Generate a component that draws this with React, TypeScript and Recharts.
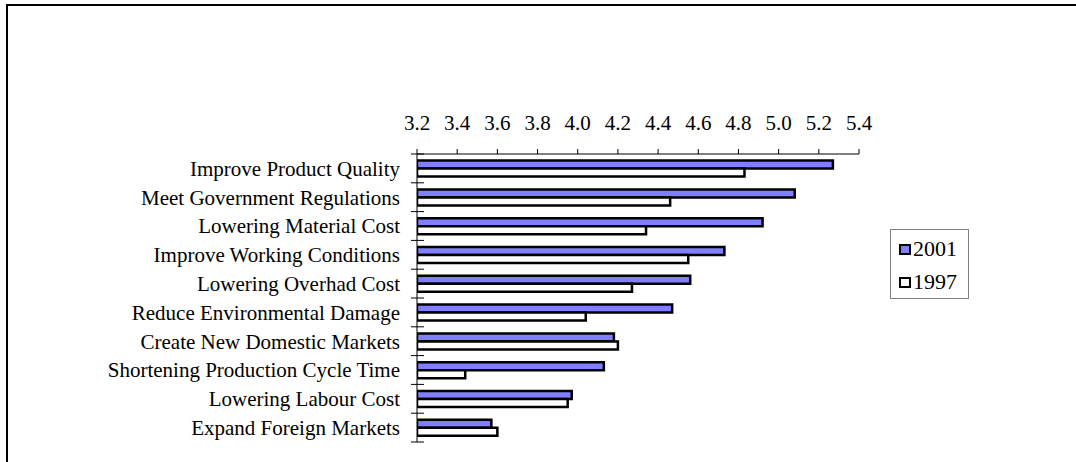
import React from 'react';
import { BarChart, Bar, XAxis, YAxis, Legend } from 'recharts';

const categories = [
  'Improve Product Quality',
  'Meet Government Regulations',
  'Lowering Material Cost',
  'Improve Working Conditions',
  'Lowering Overhad Cost',
  'Reduce Environmental Damage',
  'Create New Domestic Markets',
  'Shortening Production Cycle Time',
  'Lowering Labour Cost',
  'Expand Foreign Markets',
];

const values2001 = [5.27, 5.08, 4.92, 4.73, 4.56, 4.47, 4.18, 4.13, 3.97, 3.57];
const values1997 = [4.83, 4.46, 4.34, 4.55, 4.27, 4.04, 4.2, 3.44, 3.95, 3.6];

const xTicks = [3.2, 3.4, 3.6, 3.8, 4.0, 4.2, 4.4, 4.6, 4.8, 5.0, 5.2, 5.4];

const seriesOrder = ['y2001', 'y1997'];

const data = categories.map((name, i) => ({
  name,
  y2001: values2001[i],
  y1997: values1997[i],
}));

const W = 1076;
const H = 462;
const margin = { top: 104, right: 217, bottom: 20, left: 17 };
const X_AXIS_H = 50;
const LABEL_GAP = 17;
const plotHeight = H - margin.top - X_AXIS_H - margin.bottom;
const band = plotHeight / categories.length;

const font = '"Liberation Serif", "Times New Roman", serif';

const CategoryTick = (props: any) => {
  const { x, y, payload, index, visibleTicksCount } = props;
  const ax = x + LABEL_GAP;
  const isLast = index === visibleTicksCount - 1;
  return (
    <g>
      <text x={x} y={y} dy="0.35em" textAnchor="end" fontSize={21} fontFamily={font} fill="#000">
        {payload.value}
      </text>
      <line x1={ax - 6} x2={ax + 7} y1={y - band / 2} y2={y - band / 2} stroke="#000" />
      {isLast && <line x1={ax - 6} x2={ax + 7} y1={y + band / 2} y2={y + band / 2} stroke="#000" />}
    </g>
  );
};

const LegendBox = (props: any) => {
  const payload = [...(props.payload || [])].sort(
    (a: any, b: any) => seriesOrder.indexOf(a.dataKey) - seriesOrder.indexOf(b.dataKey)
  );
  return (
    <div style={{ border: '1px solid #808080', width: 79, height: 70, padding: '2px 0 0 8px', boxSizing: 'border-box', background: '#fff' }}>
      {payload.map((entry: any) => (
        <div key={entry.value} style={{ display: 'flex', alignItems: 'center', height: 33, fontFamily: font, fontSize: 22, color: '#000' }}>
          <span
            style={{
              flex: 'none',
              boxSizing: 'content-box',
              width: 8,
              height: 7,
              border: '2px solid #000',
              background: entry.color,
              marginRight: 2,
              marginTop: 2,
            }}
          />
          {entry.value}
        </div>
      ))}
    </div>
  );
};

export default function App() {
  return (
    <>
      <div
        style={{
          position: 'absolute',
          left: 6,
          top: 4,
          width: 1100,
          height: 500,
          borderTop: '2px solid #000',
          borderLeft: '2px solid #000',
        }}
      />
      <div style={{ position: 'absolute', left: 0, top: 0, width: W, height: H }}>
        <BarChart
          width={W}
          height={H}
          data={data}
          layout="vertical"
          margin={margin}
          barCategoryGap="23%"
          barGap={0}
        >
          <XAxis
            type="number"
            orientation="top"
            domain={[3.2, 5.4]}
            ticks={xTicks}
            interval={0}
            height={X_AXIS_H}
            tickSize={5}
            tickMargin={19}
            stroke="#000"
            tickFormatter={(v: number) => v.toFixed(1)}
            tick={{ fill: '#000', fontSize: 21, fontFamily: font }}
            allowDataOverflow
          />
          <YAxis
            type="category"
            dataKey="name"
            width={400}
            interval={0}
            tickLine={false}
            tickSize={0}
            tickMargin={LABEL_GAP}
            stroke="#000"
            tick={<CategoryTick />}
          />
          <Legend
            layout="vertical"
            align="center"
            verticalAlign="middle"
            wrapperStyle={{ left: 890, top: 229, width: 80 }}
            content={<LegendBox />}
          />
          <Bar dataKey="y2001" name="2001" fill="#8080FF" stroke="#000" strokeWidth={2.5} isAnimationActive={false} />
          <Bar dataKey="y1997" name="1997" fill="#FFFFFF" stroke="#000" strokeWidth={2.5} isAnimationActive={false} />
        </BarChart>
      </div>
    </>
  );
}
